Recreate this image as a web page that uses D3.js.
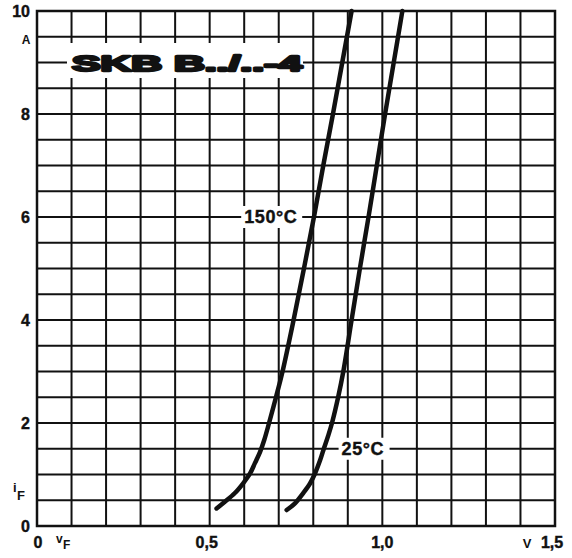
<!DOCTYPE html>
<html>
<head>
<meta charset="utf-8">
<script src="https://cdn.jsdelivr.net/npm/d3@7"></script>
<style>
  body { margin: 0; background: #fff; }
  text { font-family: "Liberation Sans", Arial, sans-serif; font-weight: bold; fill: #111; }
</style>
</head>
<body>
<div id="chart"></div>
<script>
// forward voltage (V) / current (A)
var v150 = [0.520, 0.544, 0.573, 0.597, 0.617, 0.631, 0.646, 0.658, 0.672, 0.692, 0.711, 0.743, 0.773, 0.802, 0.829, 0.857, 0.884, 0.911];
var i150 = [0.34, 0.47, 0.64, 0.83, 1.02, 1.22, 1.44, 1.67, 2.0, 2.5, 3.0, 4.0, 5.0, 6.0, 7.0, 8.0, 9.0, 10.0];
var v25 = [0.723, 0.747, 0.771, 0.791, 0.805, 0.820, 0.831, 0.844, 0.855, 0.872, 0.887, 0.911, 0.935, 0.960, 0.984, 1.008, 1.033, 1.058];
var i25 = [0.31, 0.44, 0.64, 0.83, 1.02, 1.28, 1.51, 1.77, 2.02, 2.5, 3.0, 4.0, 5.0, 6.0, 7.0, 8.0, 9.0, 10.0];

var xTicks = [0, 0.5, 1.0, 1.5];
var xTickLabels = ["0", "0,5", "1,0", "1,5"];
var yTicks = [0, 2, 4, 6, 8, 10];
var title = "SKB B../..-4";

// Set up SVG dimensions
var margin = { top: 11, right: 17, bottom: 32, left: 37 },
    width = 572 - margin.left - margin.right,
    height = 558 - margin.top - margin.bottom;

var svg = d3.select("#chart")
            .append("svg")
            .attr("width", 572)
            .attr("height", 558);
var g = svg.append("g")
           .attr("transform", "translate(" + margin.left + "," + margin.top + ")");

var x = d3.scaleLinear().domain([0, 1.5]).range([0, width]);
var y = d3.scaleLinear().domain([0, 10]).range([height, 0]);

// grid: 0.1 V columns, 0.5 A rows
var gridX = d3.range(0, 16).map(function(d) { return d / 10; });
var gridY = d3.range(0, 21).map(function(d) { return d / 2; });

g.selectAll(".vline").data(gridX).enter().append("line")
 .attr("x1", function(d) { return x(d); }).attr("x2", function(d) { return x(d); })
 .attr("y1", 0).attr("y2", height)
 .attr("stroke", "#111").attr("stroke-width", 2);
g.selectAll(".hline").data(gridY).enter().append("line")
 .attr("y1", function(d) { return y(d); }).attr("y2", function(d) { return y(d); })
 .attr("x1", 0).attr("x2", width)
 .attr("stroke", "#111").attr("stroke-width", 2);
g.append("rect")
 .attr("width", width).attr("height", height)
 .attr("fill", "none").attr("stroke", "#111").attr("stroke-width", 2.5);

// title box
g.append("rect")
 .attr("x", 30).attr("y", 32).attr("width", 236).attr("height", 35)
 .attr("fill", "#fff");
g.append("text")
 .attr("x", 35).attr("y", y(9) + 8)
 .attr("textLength", 230)
 .attr("lengthAdjust", "spacingAndGlyphs")
 .style("font-size", "22px")
 .style("font-weight", "900")
 .style("stroke", "#111").style("stroke-width", 2.4)
 .style("stroke-linejoin", "round")
 .text(title);

// curves
var line = d3.line()
             .curve(d3.curveCatmullRom.alpha(0.5))
             .x(function(d) { return x(d[0]); })
             .y(function(d) { return y(d[1]); });

[[v150, i150], [v25, i25]].forEach(function(s) {
  g.append("path")
   .datum(d3.zip(s[0], s[1]))
   .attr("fill", "none")
   .attr("stroke", "#111")
   .attr("stroke-width", 4.5)
   .attr("stroke-linecap", "round")
   .attr("d", line);
});

// curve labels
function curveLabel(txt, xv, yv, w) {
  g.append("rect")
   .attr("x", x(xv) - 3).attr("y", y(yv) - 11)
   .attr("width", w).attr("height", 22)
   .attr("fill", "#fff");
  g.append("text")
   .attr("x", x(xv)).attr("y", y(yv))
   .attr("dy", "0.36em")
   .style("font-size", "18px")
   .style("letter-spacing", "0.6px")
   .style("stroke", "#111").style("stroke-width", 0.4)
   .text(txt);
}
curveLabel("150°C", 0.6, 6, 61);
curveLabel("25°C", 0.882, 1.5, 51);

// y tick labels
svg.selectAll(".ylab").data(yTicks).enter().append("text")
   .attr("x", 30)
   .attr("y", function(d) { return margin.top + y(d); })
   .attr("dy", "0.36em")
   .attr("text-anchor", "end")
   .style("font-size", "16px")
   .style("stroke", "#111").style("stroke-width", 0.4)
   .text(function(d) { return d; });

svg.append("text").attr("x", 26).attr("y", 44)
   .attr("text-anchor", "middle").style("font-size", "12px").text("A");

// i_F label
svg.append("text").attr("x", 13).attr("y", 492)
   .style("font-size", "13px").text("i");
svg.append("text").attr("x", 17).attr("y", 500)
   .style("font-size", "13px").text("F");

// x tick labels
svg.selectAll(".xlab").data(xTicks).enter().append("text")
   .attr("x", function(d) { return margin.left + x(d); })
   .attr("y", 548)
   .attr("dx", function(d, i) { return i === 0 ? 1 : (i === 1 || i === 3 ? -3 : 0); })
   .attr("text-anchor", "middle")
   .style("font-size", "16px")
   .style("stroke", "#111").style("stroke-width", 0.4)
   .text(function(d, i) { return xTickLabels[i]; });

svg.append("text").attr("x", 56).attr("y", 543)
   .style("font-size", "12px").text("v");
svg.append("text").attr("x", 63).attr("y", 549)
   .style("font-size", "12px").text("F");
svg.append("text").attr("x", 527).attr("y", 548)
   .attr("text-anchor", "middle")
   .style("font-size", "13px").text("V");
</script>
</body>
</html>
